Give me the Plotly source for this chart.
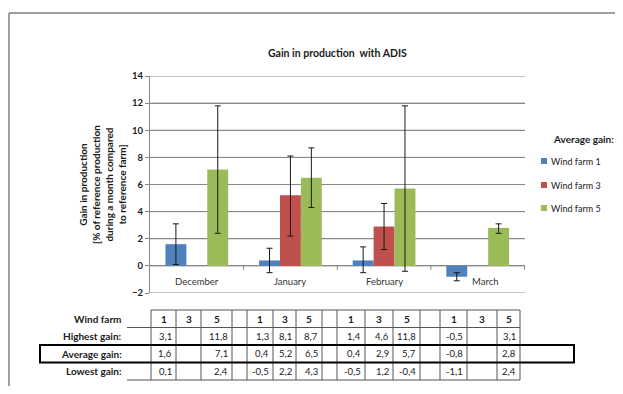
import plotly.graph_objects as go

# ---------------- data ----------------
months = ["December", "January", "February", "March"]
farm_ids = ["1", "3", "5"]
series_names = ["Wind farm 1", "Wind farm 3", "Wind farm 5"]

avg_wf1 = [1.6, 0.4, 0.4, -0.8]
avg_wf3 = [None, 5.2, 2.9, None]
avg_wf5 = [7.1, 6.5, 5.7, 2.8]

high_wf1 = [3.1, 1.3, 1.4, -0.5]
high_wf3 = [None, 8.1, 4.6, None]
high_wf5 = [11.8, 8.7, 11.8, 3.1]

low_wf1 = [0.1, -0.5, -0.5, -1.1]
low_wf3 = [None, 2.2, 1.2, None]
low_wf5 = [2.4, 4.3, -0.4, 2.4]

y_ticks = [-2, 0, 2, 4, 6, 8, 10, 12, 14]
row_labels = ["Wind farm", "Highest gain:", "Average gain:", "Lowest gain:"]

# ---------------- styles / layout constants ----------------
colors = ["#4F81BD", "#C0504D", "#9BBB59"]
GRID = "#888888"
FONT = "Lato, sans-serif"
OFF = 8                              # page body margin of the html page
W, H = 623 - 2 * OFF, 394 - 2 * OFF  # figure size (no page overflow)
PL, PR, PT, PB = 150, 525, 76, 293   # plot area in screen px
YMIN, YMAX = -2, 14


def px(x):
    return (x - PL) / (PR - PL)


def py(y):
    return (PB - y) / (PB - PT)


def err(avg, hi, lo):
    up = [None if a is None else round(h - a, 3) for a, h in zip(avg, hi)]
    dn = [None if a is None else round(a - l, 3) for a, l in zip(avg, lo)]
    return up, dn


fig = go.Figure()
for name, avg, hi, lo, c in [
    (series_names[0], avg_wf1, high_wf1, low_wf1, colors[0]),
    (series_names[1], avg_wf3, high_wf3, low_wf3, colors[1]),
    (series_names[2], avg_wf5, high_wf5, low_wf5, colors[2]),
]:
    up, dn = err(avg, hi, lo)
    fig.add_trace(go.Bar(
        x=months, y=avg, name=name, marker=dict(color=c, line=dict(width=0)),
        error_y=dict(type="data", array=up, arrayminus=dn, symmetric=False,
                     color="#1a1a1a", thickness=1, width=3),
        showlegend=False,
    ))

shapes = []
annotations = []

# horizontal gridlines at the y tick values (below the bars)
for t in y_ticks:
    shapes.append(dict(type="line", xref="x domain", yref="y", x0=0, x1=1, y0=t, y1=t,
                       line=dict(color=GRID, width=1), layer="below"))

# outer frame (top and left edges; the others lie outside the picture)
shapes.append(dict(type="line", xref="paper", yref="paper",
                   x0=px(9), x1=px(OFF + W), y0=py(13), y1=py(13),
                   line=dict(color="#7f7f7f", width=1.5)))
shapes.append(dict(type="line", xref="paper", yref="paper",
                   x0=px(9), x1=px(9), y0=py(13), y1=py(OFF + H),
                   line=dict(color="#7f7f7f", width=1.5)))

# title
annotations.append(dict(xref="paper", yref="paper", x=px(337), y=py(53),
                        text="<b>Gain in production&nbsp; with ADIS</b>", showarrow=False,
                        font=dict(family=FONT, size=10.5, color="#1a1a1a"),
                        xanchor="center", yanchor="middle"))

# category axis at zero: labels and boundary ticks
unit = (PB - PT) / (YMAX - YMIN)
for i, m in enumerate(months):
    annotations.append(dict(xref="x", yref="y", x=m, y=-15.5 / unit,
                            text=m, showarrow=False,
                            font=dict(family=FONT, size=9.5, color="#333333"),
                            xanchor="center", yanchor="middle",
                            xshift=8 if i == len(months) - 1 else 0))
for i in range(len(months)):
    shapes.append(dict(type="line", xref="x", yref="y", x0=i + 0.5, x1=i + 0.5,
                       y0=0, y1=-4 / unit, line=dict(color=GRID, width=1)))

# custom legend
annotations.append(dict(xref="paper", yref="paper", x=px(583), y=py(139),
                        text="<b>Average gain:</b>", showarrow=False,
                        font=dict(family=FONT, size=10, color="#1a1a1a"),
                        xanchor="center", yanchor="middle"))
for i, (name, c) in enumerate(zip(series_names, colors)):
    yy = [161, 185, 208][i]
    shapes.append(dict(type="rect", xref="paper", yref="paper",
                       x0=px(541), x1=px(547), y0=py(yy - 3), y1=py(yy + 3),
                       line=dict(width=0), fillcolor=c))
    annotations.append(dict(xref="paper", yref="paper", x=px(548.5), y=py(yy),
                            text=name, showarrow=False,
                            font=dict(family=FONT, size=9, color="#1a1a1a"),
                            xanchor="left", yanchor="middle"))

# ---------------- table ----------------
col_edges = [151, 176, 201, 232, 247, 273, 296, 322, 337, 365, 393, 420, 440, 467, 497, 520]
row_edges = [310, 327.5, 345, 362.5, 380]
LINE = "#555555"


def fmt(v):
    return "" if v is None else ("%.1f" % v).replace(".", ",")


for yv in row_edges:
    shapes.append(dict(type="line", xref="paper", yref="paper",
                       x0=px(col_edges[0]), x1=px(col_edges[-1]), y0=py(yv), y1=py(yv),
                       line=dict(color=LINE, width=1)))
for xv in col_edges:
    shapes.append(dict(type="line", xref="paper", yref="paper",
                       x0=px(xv), x1=px(xv), y0=py(row_edges[0]), y1=py(row_edges[-1]),
                       line=dict(color=LINE, width=1)))
for yv in [row_edges[1], row_edges[-1]]:
    shapes.append(dict(type="line", xref="paper", yref="paper",
                       x0=px(127), x1=px(151), y0=py(yv), y1=py(yv),
                       line=dict(color=LINE, width=1)))
shapes.append(dict(type="rect", xref="paper", yref="paper",
                   x0=px(40), x1=px(574), y0=py(row_edges[2]), y1=py(row_edges[3]),
                   line=dict(color="#000000", width=2)))

for r, lab in enumerate(row_labels):
    yc = (row_edges[r] + row_edges[r + 1]) / 2
    annotations.append(dict(xref="paper", yref="paper", x=px(124), y=py(yc),
                            text="<b>%s</b>" % lab, showarrow=False,
                            font=dict(family=FONT, size=10, color="#1a1a1a"),
                            xanchor="right", yanchor="middle"))

series_rows = [
    (high_wf1, high_wf3, high_wf5),
    (avg_wf1, avg_wf3, avg_wf5),
    (low_wf1, low_wf3, low_wf5),
]
for m in range(len(months)):
    for f in range(3):
        ci = m * 4 + f
        x0, x1 = col_edges[ci], col_edges[ci + 1]
        yc = (row_edges[0] + row_edges[1]) / 2
        annotations.append(dict(xref="paper", yref="paper", x=px((x0 + x1) / 2), y=py(yc),
                                text="<b>%s</b>" % farm_ids[f], showarrow=False,
                                font=dict(family=FONT, size=10, color="#1a1a1a"),
                                xanchor="center", yanchor="middle"))
        for r, triple in enumerate(series_rows):
            v = triple[f][m]
            if v is None:
                continue
            yc = (row_edges[r + 1] + row_edges[r + 2]) / 2
            annotations.append(dict(xref="paper", yref="paper", x=px(x1 - 2), y=py(yc),
                                    text=fmt(v), showarrow=False,
                                    font=dict(family=FONT, size=9.5, color="#1a1a1a"),
                                    xanchor="right", yanchor="middle"))

fig.update_layout(
    template="none",
    width=W, height=H, autosize=False,
    margin=dict(l=PL - OFF, r=W - (PR - OFF), t=PT - OFF, b=H - (PB - OFF)),
    paper_bgcolor="white", plot_bgcolor="white",
    barmode="group", bargap=0.33, bargroupgap=0,
    font=dict(family=FONT, color="#1a1a1a"),
    shapes=shapes, annotations=annotations,
    xaxis=dict(
        showline=False, showticklabels=False, ticks="", showgrid=False,
        zeroline=False,
    ),
    yaxis=dict(
        range=[YMIN, YMAX], tickvals=y_ticks,
        showgrid=True, gridcolor=GRID, gridwidth=1,
        showline=True, linecolor=GRID, linewidth=1,
        zeroline=True, zerolinecolor=GRID, zerolinewidth=1,
        ticks="outside", ticklen=4, tickcolor=GRID,
        tickfont=dict(family=FONT, size=9.5, color="#1a1a1a", weight="bold"),
        title=dict(text="Gain in production<br>[% of reference production<br>during a month compared<br>to reference farm]",
                   font=dict(family=FONT, size=10, color="#1a1a1a", weight="bold"),
                   standoff=3),
    ),
)

fig.write_html("out.html")
